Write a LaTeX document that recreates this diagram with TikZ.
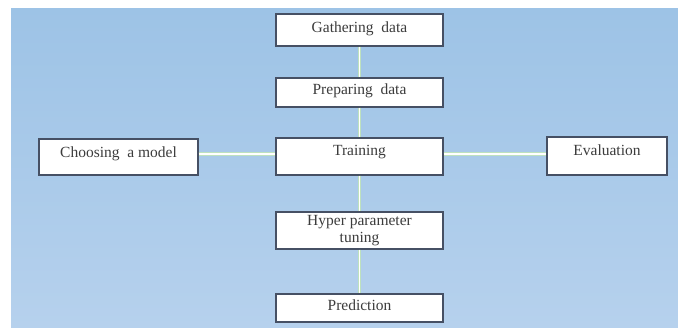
\documentclass[tikz,border=0pt]{standalone}
\usepackage{fontspec}
\setmainfont{Liberation Serif}
\definecolor{bgtop}{RGB}{157,195,230}
\definecolor{bgbot}{RGB}{182,209,237}
\definecolor{boxline}{RGB}{70,80,100}
\definecolor{txt}{RGB}{60,60,60}
\definecolor{linkgreen}{RGB}{190,225,190}
\tikzset{
  stepbox/.style={draw=boxline, line width=1.1pt, fill=white, rectangle, inner sep=0pt,
    text=txt, font=\fontsize{15.5}{16.5}\selectfont, align=center},
  link/.style={draw=linkgreen, line width=3.6pt},
  linkcore/.style={draw=white, line width=1.1pt}
}
\newcommand{\up}[2]{\smash{\raisebox{#1}{#2}}}
\begin{document}
\begin{tikzpicture}[x=1pt,y=-1pt]
\useasboundingbox (0,0) rectangle (678,327);
\shade[top color=bgtop, bottom color=bgbot] (11,8) rectangle (678,327);
% nodes
\node[stepbox, minimum width=167pt, minimum height=32pt] (gather) at (359.5,30) {\up{-2pt}{Gathering\ \ data}};
\node[stepbox, minimum width=167pt, minimum height=29pt] (prep) at (359.5,92.5) {\up{-1.5pt}{Preparing\ \ data}};
\node[stepbox, minimum width=167pt, minimum height=37pt] (train) at (359.5,156.5) {\up{1.5pt}{Training}};
\node[stepbox, minimum width=159pt, minimum height=36pt] (choose) at (118.5,157) {\up{0pt}{Choosing\ \ a model}};
\node[stepbox, minimum width=120pt, minimum height=38pt] (eval) at (607,156) {\up{1pt}{Evaluation}};
\node[stepbox, minimum width=167pt, minimum height=37pt] (hyper) at (359.5,230.5) {Hyper parameter\\tuning};
\node[stepbox, minimum width=167pt, minimum height=28pt] (pred) at (359.5,308) {\up{-2pt}{Prediction}};
% connectors
\foreach \s in {link,linkcore}{
  \draw[\s] (gather.south) -- (prep.north);
  \draw[\s] (prep.south) -- (train.north);
  \draw[\s] (train.south) -- (hyper.north);
  \draw[\s] (hyper.south) -- (pred.north);
  \draw[\s] (choose.east |- 0,154) -- (train.west |- 0,154);
  \draw[\s] (train.east |- 0,154) -- (eval.west |- 0,154);
}
\end{tikzpicture}
\end{document}
